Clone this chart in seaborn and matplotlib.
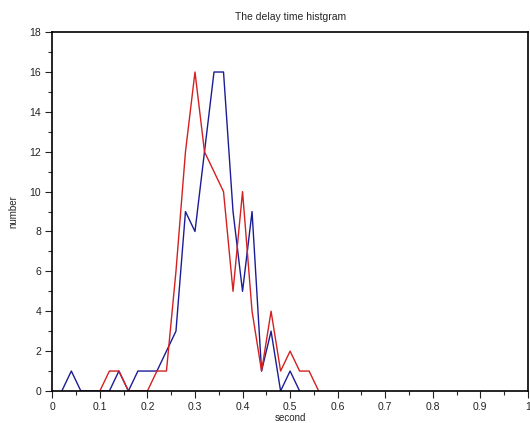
import matplotlib
matplotlib.use("Agg")
import matplotlib.pyplot as plt
import seaborn as sns
import pandas as pd
from matplotlib.ticker import MultipleLocator

blue_x = [0.02, 0.04, 0.06, 0.08, 0.10, 0.12, 0.14, 0.16, 0.18, 0.20, 0.22, 0.24, 0.26,
          0.28, 0.30, 0.32, 0.34, 0.36, 0.38, 0.40, 0.42, 0.44, 0.46, 0.48, 0.50, 0.52]
blue_y = [0, 1, 0, 0, 0, 0, 1, 0, 1, 1, 1, 2, 3,
          9, 8, 12, 16, 16, 9, 5, 9, 1, 3, 0, 1, 0]
red_x = [0.10, 0.12, 0.14, 0.16, 0.18, 0.20, 0.22, 0.24, 0.26, 0.28, 0.30, 0.32, 0.34,
         0.36, 0.38, 0.40, 0.42, 0.44, 0.46, 0.48, 0.50, 0.52, 0.54, 0.56]
red_y = [0, 1, 1, 0, 0, 0, 1, 1, 6, 12, 16, 12, 11,
         10, 5, 10, 4, 1, 4, 1, 2, 1, 1, 0]

sns.set_style("ticks")
plt.rcParams['font.family'] = ['Liberation Sans', 'DejaVu Sans']

fig = plt.figure(figsize=(5.30, 4.23), dpi=100)
ax = fig.add_axes([0.0987, 0.0757, 0.8973, 0.8483])

df_b = pd.DataFrame({"second": blue_x, "number": blue_y})
df_r = pd.DataFrame({"second": red_x, "number": red_y})
sns.lineplot(data=df_b, x="second", y="number", ax=ax, color="#1c1c96", lw=1.0, zorder=1)
sns.lineplot(data=df_r, x="second", y="number", ax=ax, color="#d42020", lw=1.0, zorder=1)

ax.set_xlim(0, 1)
ax.set_ylim(0, 18)
ax.xaxis.set_major_locator(MultipleLocator(0.1))
ax.xaxis.set_minor_locator(MultipleLocator(0.05))
ax.yaxis.set_major_locator(MultipleLocator(2))
ax.yaxis.set_minor_locator(MultipleLocator(1))
ax.set_xticks([i / 10 for i in range(11)])
ax.set_xticklabels(["0", "0.1", "0.2", "0.3", "0.4", "0.5", "0.6", "0.7", "0.8", "0.9", "1"])
ax.tick_params(axis="both", which="major", direction="out", length=5, width=0.8,
               labelsize=7.5, colors="#222222", pad=3)
ax.tick_params(axis="both", which="minor", direction="out", length=3, width=0.8)
for s in ax.spines.values():
    s.set_visible(True)
    s.set_color("black")
    s.set_linewidth(1.2)
    s.set_zorder(5)

ax.set_xlabel("second", fontsize=7, labelpad=1)
ax.set_ylabel("number", fontsize=7, labelpad=8)
ax.set_title("The delay time histgram", fontsize=7.5, pad=9)

fig.savefig("out.png", dpi=100)
